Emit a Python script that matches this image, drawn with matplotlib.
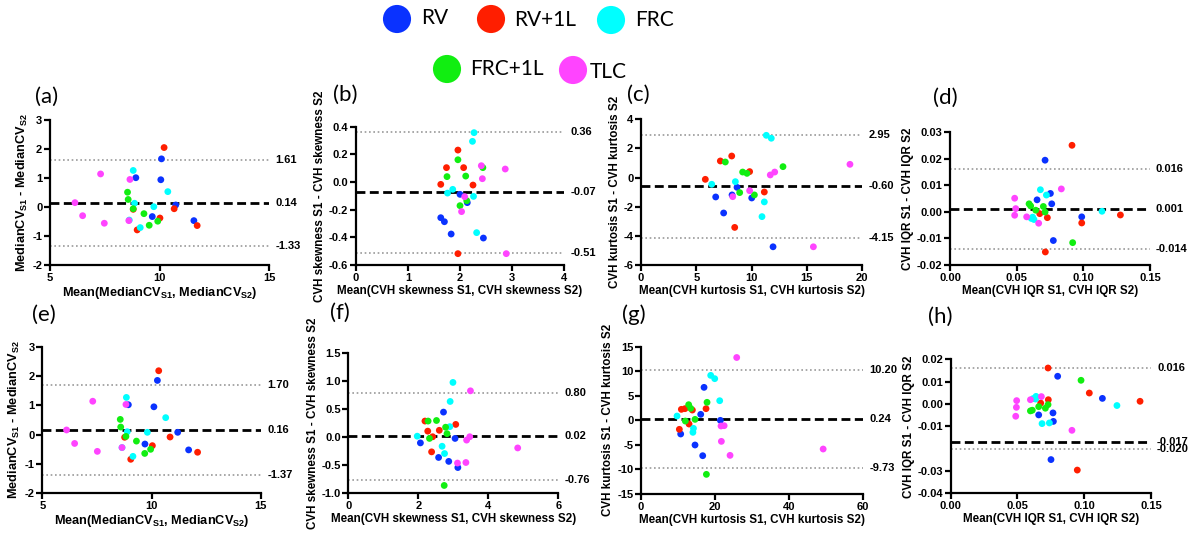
import matplotlib
matplotlib.use("Agg")
import matplotlib.pyplot as plt
from matplotlib.ticker import FixedLocator, FixedFormatter

plt.rcParams["font.family"] = ["Liberation Sans", "DejaVu Sans"]
plt.rcParams["font.weight"] = "bold"
plt.rcParams["mathtext.fontset"] = "custom"
plt.rcParams["mathtext.bf"] = "Liberation Sans:bold"
plt.rcParams["mathtext.rm"] = "Liberation Sans:bold"
plt.rcParams["mathtext.default"] = "bf"

# ---- lung volume groups (6 subjects each, order within every series below) ----
groups = ["RV", "RV+1L", "FRC", "FRC+1L", "TLC"]
group_colors = ["#0a32ff", "#ff1e00", "#00ffff", "#11ee11", "#ff44ff"]

# ---- (a) MedianCV, set 1 ----
a_mean = [10.09, 10.06, 8.92, 10.74, 9.67, 11.57,
          10.21, 10.67, 11.72, 10.02, 8.98, 8.80,
          8.80, 10.38, 8.86, 9.74, 9.12, 8.62,
          8.54, 8.57, 8.80, 9.29, 9.53, 9.92,
          7.31, 6.14, 6.49, 7.48, 8.65, 8.60]
a_diff = [1.66, 0.94, 1.01, 0.07, -0.33, -0.47,
          2.05, -0.06, -0.64, -0.38, -0.79, -0.08,
          1.26, 0.53, 0.13, 0.01, -0.71, -0.45,
          0.51, 0.26, -0.06, -0.23, -0.63, -0.49,
          1.14, 0.15, -0.30, -0.56, 0.95, -0.47]
a_lines = [0.14, 1.61, -1.33]   # bias, upper LoA, lower LoA

# ---- (b) CVH skewness, set 1 ----
b_mean = [1.63, 1.70, 1.83, 2.00, 2.14, 2.45,
          1.96, 1.74, 2.07, 1.63, 2.25, 1.96,
          2.27, 2.24, 1.86, 1.76, 2.26, 2.32,
          1.96, 1.75, 2.11, 2.44, 2.13, 2.00,
          2.41, 2.43, 2.87, 2.09, 2.03, 2.89]
b_diff = [-0.258, -0.287, -0.376, -0.089, -0.149, -0.405,
          0.231, 0.104, 0.104, -0.017, -0.022, -0.518,
          0.357, 0.294, -0.053, -0.080, -0.104, -0.366,
          0.161, 0.039, 0.043, 0.104, -0.135, -0.171,
          0.118, 0.024, 0.094, -0.106, -0.214, -0.518]
b_lines = [-0.07, 0.36, -0.51]

# ---- (c) CVH kurtosis, set 1 ----
c_mean = [8.69, 8.24, 6.76, 7.48, 10.02, 11.95,
          7.18, 8.21, 5.82, 9.83, 11.16, 8.48,
          11.34, 11.79, 6.40, 8.54, 11.16, 10.95,
          7.63, 9.20, 9.59, 12.85, 8.93, 10.26,
          18.91, 11.70, 12.10, 9.83, 8.30, 15.60]
c_diff = [-0.67, -1.19, -1.33, -2.43, -1.40, -4.75,
          1.14, 1.48, -0.12, 0.41, -0.99, -3.42,
          2.90, 2.70, -0.46, -0.28, -1.67, -2.68,
          1.07, 0.38, 0.29, 0.75, -1.03, -1.19,
          0.91, 0.18, 0.38, -0.90, -1.31, -4.75]
c_lines = [-0.60, 2.95, -4.15]

# ---- (d) CVH IQR, set 1 ----
d_mean = [0.0713, 0.0753, 0.0653, 0.0763, 0.0988, 0.0775,
          0.0915, 0.1278, 0.0988, 0.0730, 0.0673, 0.0715,
          0.0678, 0.0723, 0.1140, 0.0610, 0.0630, 0.0620,
          0.0593, 0.0605, 0.0643, 0.0700, 0.0713, 0.0920,
          0.0485, 0.0493, 0.0485, 0.0575, 0.0665, 0.0835]
d_diff = [0.0194, 0.0069, 0.0045, 0.0030, -0.0019, -0.0108,
          0.0250, -0.0012, -0.0042, -0.0022, -0.0007, -0.0151,
          0.0083, 0.0063, 0.0002, -0.0025, -0.0029, -0.0020,
          0.0030, 0.0022, 0.0006, 0.0020, -0.0001, -0.0116,
          0.0051, 0.0012, -0.0013, -0.0019, -0.0043, 0.0086]
d_lines = [0.001, 0.016, -0.014]

# ---- (e) MedianCV, set 2 ----
e_mean = [10.27, 10.11, 8.94, 11.20, 9.70, 11.70,
          10.33, 10.85, 12.11, 10.04, 9.05, 8.77,
          8.85, 10.65, 8.89, 9.81, 9.15, 8.65,
          8.57, 8.59, 8.83, 9.31, 9.69, 9.96,
          7.31, 6.11, 6.48, 7.52, 8.83, 8.65]
e_diff = [1.85, 0.95, 1.02, 0.08, -0.32, -0.52,
          2.18, -0.08, -0.60, -0.375, -0.84, -0.09,
          1.27, 0.58, 0.10, 0.08, -0.74, -0.44,
          0.52, 0.26, -0.06, -0.22, -0.64, -0.50,
          1.14, 0.16, -0.30, -0.57, 1.03, -0.44]
e_lines = [0.16, 1.70, -1.37]

# ---- (f) CVH skewness, set 2 ----
f_mean = [2.72, 2.06, 3.05, 2.58, 2.87, 3.13,
          2.19, 2.27, 2.41, 2.60, 3.07, 2.38,
          2.99, 2.91, 2.90, 1.97, 2.68, 2.75,
          2.28, 2.52, 2.78, 2.82, 2.32, 2.74,
          3.49, 3.47, 3.38, 4.84, 3.12, 3.36]
f_diff = [0.45, -0.10, -0.02, -0.36, -0.43, -0.54,
          0.29, 0.11, 0.01, 0.125, 0.23, -0.26,
          0.98, 0.64, 0.19, 0.02, -0.16, -0.29,
          0.29, 0.30, 0.18, 0.065, -0.02, -0.86,
          0.83, 0.01, -0.05, -0.19, -0.46, -0.45]
f_lines = [0.02, 0.80, -0.76]

# ---- (g) CVH kurtosis, set 2 ----
g_mean = [17.06, 16.16, 21.48, 10.74, 14.62, 16.70,
          10.92, 11.90, 13.90, 17.60, 13.00, 10.38,
          18.86, 19.95, 21.30, 9.75, 14.20, 14.05,
          12.90, 13.45, 17.87, 12.00, 14.62, 17.70,
          25.90, 49.30, 24.10, 21.75, 21.66, 22.50]
g_diff = [6.72, 1.22, 0.0, -2.78, -5.02, -7.2,
          2.24, 2.38, 2.10, 2.38, -0.75, -1.83,
          9.16, 8.49, 4.0, 0.88, -1.63, -2.44,
          3.19, 2.44, 3.67, -0.14, 0.2, -11.0,
          12.8, -5.84, -7.13, -4.28, -1.15, -1.09]
g_lines = [0.24, 10.20, -9.73]

# ---- (h) CVH IQR, set 2 ----
h_mean = [0.0801, 0.1136, 0.0766, 0.0769, 0.0659, 0.0751,
          0.0729, 0.1038, 0.1418, 0.0731, 0.0674, 0.0948,
          0.0639, 0.0636, 0.0616, 0.1245, 0.0684, 0.0739,
          0.0976, 0.0729, 0.0709, 0.0659, 0.0597, 0.0611,
          0.0494, 0.0492, 0.0487, 0.0597, 0.0679, 0.0908]
h_diff = [0.0124, 0.0025, -0.0040, -0.0078, -0.0049, -0.0249,
          0.0161, 0.0049, 0.0012, 0.0019, 0.0004, -0.0296,
          0.0034, 0.0022, 0.0024, -0.0007, -0.0088, -0.0085,
          0.0106, -0.0003, -0.0019, -0.0012, -0.0031, -0.0028,
          0.0015, -0.0015, -0.0055, 0.0019, 0.0033, -0.0118]
h_lines = [-0.017, 0.016, -0.020]

# ---- axis text ----
lbl_cv_x = r"Mean(MedianCV$_{S1}$, MedianCV$_{S2}$)"
lbl_cv_y = r"MedianCV$_{S1}$ - MedianCV$_{S2}$"
lbl_sk_x = "Mean(CVH skewness S1, CVH skewness S2)"
lbl_sk_y = "CVH skewness S1 - CVH skewness S2"
lbl_ku_x = "Mean(CVH kurtosis S1, CVH kurtosis S2)"
lbl_ku_y = "CVH kurtosis S1 - CVH kurtosis S2"
lbl_iq_x = "Mean(CVH IQR S1, CVH IQR S2)"
lbl_iq_y = "CVH IQR S1 - CVH IQR S2"

W, H = 1191, 534
fig = plt.figure(figsize=(W / 100, H / 100), dpi=100)


def px_axes(left, right, top, bottom):
    return fig.add_axes([left / W, 1 - bottom / H, (right - left) / W, (bottom - top) / H])


def fmt_ticks(vals, nd):
    return [f"{v:.{nd}f}" for v in vals]


panels = [
    # tag, rect(px), mean, diff, lines, xlim, xticks, xnd, ylim, yticks, ynd, line nd,
    # xlabel, ylabel, label size, tag position
    ("(a)", (50, 269, 120, 265), a_mean, a_diff, a_lines, (5, 15), [5, 10, 15], 0,
     (-2, 3), [-2, -1, 0, 1, 2, 3], 0, 2, lbl_cv_x, lbl_cv_y, 9.2, (35, 97)),
    ("(b)", (356, 564, 126.7, 265), b_mean, b_diff, b_lines, (0, 4), [0, 1, 2, 3, 4], 0,
     (-0.6, 0.4), [-0.6, -0.4, -0.2, 0.0, 0.2, 0.4], 1, 2, lbl_sk_x, lbl_sk_y, 8.4, (333, 95)),
    ("(c)", (641, 862, 119.3, 265), c_mean, c_diff, c_lines, (0, 20), [0, 5, 10, 15, 20], 0,
     (-6, 4), [-6, -4, -2, 0, 2, 4], 0, 2, lbl_ku_x, lbl_ku_y, 8.4, (627, 95)),
    ("(d)", (950, 1150, 132, 265), d_mean, d_diff, d_lines, (0, 0.15), [0, 0.05, 0.10, 0.15], 2,
     (-0.02, 0.03), [-0.02, -0.01, 0.0, 0.01, 0.02, 0.03], 2, 3, lbl_iq_x, lbl_iq_y, 8.4, (933, 98)),
    ("(e)", (42.3, 260.7, 346.7, 493.3), e_mean, e_diff, e_lines, (5, 15), [5, 10, 15], 0,
     (-2, 3), [-2, -1, 0, 1, 2, 3], 0, 2, lbl_cv_x, lbl_cv_y, 9.2, (32, 315)),
    ("(f)", (348.3, 558.3, 353.3, 493.3), f_mean, f_diff, f_lines, (0, 6), [0, 2, 4, 6], 0,
     (-1.0, 1.5), [-1.0, -0.5, 0.0, 0.5, 1.0, 1.5], 1, 2, lbl_sk_x, lbl_sk_y, 8.4, (330, 313)),
    ("(g)", (641, 862.7, 346.7, 494), g_mean, g_diff, g_lines, (0, 60), [0, 20, 40, 60], 0,
     (-15, 15), [-15, -10, -5, 0, 5, 10, 15], 0, 2, lbl_ku_x, lbl_ku_y, 8.4, (622, 315)),
    ("(h)", (950.7, 1151, 359.3, 493.3), h_mean, h_diff, h_lines, (0, 0.15), [0, 0.05, 0.10, 0.15], 2,
     (-0.04, 0.02), [-0.04, -0.03, -0.01, 0.0, 0.01, 0.02], 2, 3, lbl_iq_x, lbl_iq_y, 8.4, (928, 317)),
]

for (tag, rect, xm, yd, lines, xlim, xt, xnd, ylim, yt, ynd, lnd, xl, yl, lsz, tagpos) in panels:
    ax = px_axes(*rect)
    ax.set_xlim(*xlim)
    ax.set_ylim(*ylim)
    for side in ("top", "right"):
        ax.spines[side].set_visible(False)
    for side in ("left", "bottom"):
        ax.spines[side].set_linewidth(1.6)
    ax.xaxis.set_major_locator(FixedLocator(xt))
    ax.xaxis.set_major_formatter(FixedFormatter(fmt_ticks(xt, xnd)))
    ax.yaxis.set_major_locator(FixedLocator(yt))
    ax.yaxis.set_major_formatter(FixedFormatter(fmt_ticks(yt, ynd)))
    ax.tick_params(direction="out", length=4, width=1.6, labelsize=8, pad=1.5)
    for t in ax.get_xticklabels() + ax.get_yticklabels():
        t.set_fontweight("bold")
    ax.set_xlabel(xl, fontsize=lsz, fontweight="bold", labelpad=1.5)
    ax.set_ylabel(yl, fontsize=lsz, fontweight="bold", labelpad=2)

    bias, upper, lower = lines
    ax.axhline(upper, color="#9a9a9a", lw=1.2, ls=(0, (1, 1.6)), zorder=1)
    ax.axhline(lower, color="#9a9a9a", lw=1.2, ls=(0, (1, 1.6)), zorder=1)
    ax.axhline(bias, color="black", lw=2.0, ls=(0, (3.2, 1.6)), zorder=1)
    tr = ax.get_yaxis_transform()
    for v in (upper, bias, lower):
        ax.text(1.03, v, f"{v:.{lnd}f}", transform=tr, ha="left", va="center",
                fontsize=8, fontweight="bold", clip_on=False)

    for gi, col in enumerate(group_colors):
        sl = slice(gi * 6, gi * 6 + 6)
        ax.scatter(xm[sl], yd[sl], s=24, color=col, edgecolors="none", zorder=3, clip_on=False)

    fig.text(tagpos[0] / W, 1 - tagpos[1] / H, tag, fontsize=16, fontweight="normal",
             family=["Lato", "DejaVu Sans"], ha="left", va="center")

# ---- group legend across the top ----
leg = fig.add_axes([0, 0, 1, 1], zorder=5)
leg.set_xlim(0, W)
leg.set_ylim(H, 0)
leg.axis("off")
leg_pos = [(397, 19, 421, 18), (491, 19, 514, 20), (611, 20, 635, 20),
           (447, 69, 470, 69), (573, 70, 590, 72)]
for name, col, (cx, cy, tx, ty) in zip(groups, group_colors, leg_pos):
    leg.scatter([cx], [cy], s=410, color=col, edgecolors="none")
    leg.text(tx, ty, name, fontsize=15, fontweight="normal", family=["Lato", "DejaVu Sans"],
             ha="left", va="center")

fig.savefig("out.png", dpi=100)
